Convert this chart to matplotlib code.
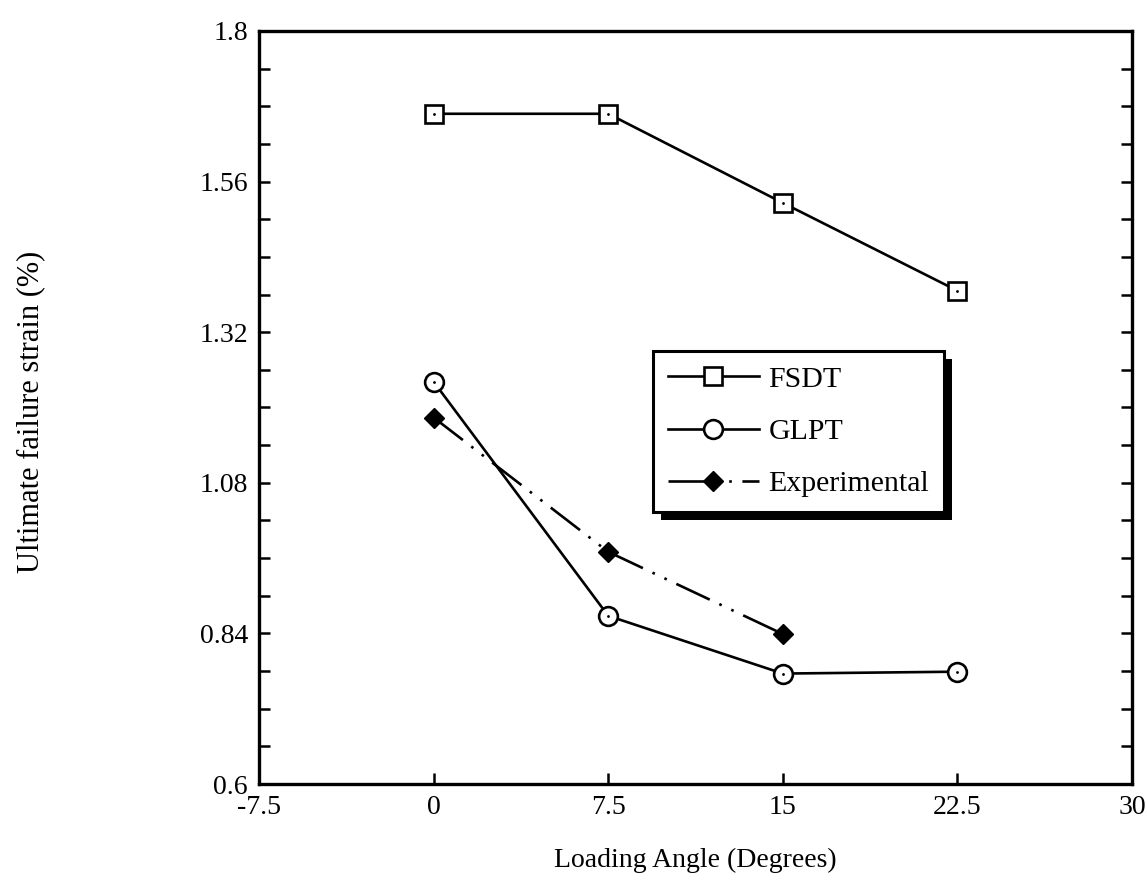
import matplotlib
matplotlib.use("Agg")
import matplotlib.pyplot as plt
from matplotlib.patches import Rectangle
from matplotlib.ticker import MultipleLocator
from matplotlib.transforms import IdentityTransform

plt.rcParams["font.family"] = ["Liberation Serif", "DejaVu Serif"]

# -----------------------------------------------------------------------------
# Data
# -----------------------------------------------------------------------------
angles = [0, 7.5, 15, 22.5]
fsdt = [1.668, 1.668, 1.526, 1.386]
glpt = [1.241, 0.868, 0.776, 0.779]

exp_angles = [0, 7.5, 15]
experimental = [1.184, 0.970, 0.839]

x_ticks = [-7.5, 0, 7.5, 15, 22.5, 30]
x_tick_labels = ["-7.5", "0", "7.5", "15", "22.5", "30"]
y_ticks = [0.6, 0.84, 1.08, 1.32, 1.56, 1.8]
y_tick_labels = ["0.6", "0.84", "1.08", "1.32", "1.56", "1.8"]

# -----------------------------------------------------------------------------
# Figure
# -----------------------------------------------------------------------------
fig = plt.figure(figsize=(11.47, 8.84), dpi=100)
ax = fig.add_axes([0.2258, 0.1131, 0.7612, 0.8519])

ax.plot(angles, fsdt, color="black", lw=1.9, marker="s", ms=12.5,
        mfc="white", mec="black", mew=1.9, label="FSDT", zorder=3)
ax.plot(angles, glpt, color="black", lw=1.9, marker="o", ms=13.5,
        mfc="white", mec="black", mew=1.9, label="GLPT", zorder=3)
ax.plot(exp_angles, experimental, color="black", lw=1.9,
        linestyle=(0, (14, 4, 1, 4, 1, 4)), marker="D", ms=10.5,
        mfc="black", mec="black", label="Experimental", zorder=3)

# small centre dots inside the open markers
ax.plot(angles, fsdt, ls="none", marker=".", ms=2, color="black", zorder=4)
ax.plot(angles, glpt, ls="none", marker=".", ms=2, color="black", zorder=4)

ax.set_xlim(-7.5, 30)
ax.set_ylim(0.6, 1.8)
ax.set_xticks(x_ticks)
ax.set_xticklabels(x_tick_labels)
ax.set_yticks(y_ticks)
ax.set_yticklabels(y_tick_labels)
ax.yaxis.set_minor_locator(MultipleLocator(0.06))

ax.tick_params(axis="both", which="both", direction="in", width=1.8,
               labelsize=20, pad=8)
ax.tick_params(axis="y", which="both", right=True, length=8)
ax.tick_params(axis="x", which="major", length=8)
for spine in ax.spines.values():
    spine.set_linewidth(2.4)

ax.set_xlabel("Loading Angle (Degrees)", fontsize=20, labelpad=20)
fig.text(0.027, 0.534, "Ultimate failure strain (%)", rotation=90,
         fontsize=22, ha="center", va="center")

leg = ax.legend(loc="upper left", bbox_to_anchor=(0.451, 0.575), fontsize=21.5,
                frameon=True, fancybox=False, edgecolor="black",
                handlelength=3.05, labelspacing=0.85, borderpad=0.5,
                handletextpad=0.33, borderaxespad=0)
leg.get_frame().set_linewidth(2.2)
leg.get_frame().set_alpha(1)
leg.set_zorder(6)

# dark drop shadow behind the legend box
fig.canvas.draw()
bb = leg.get_window_extent()
shadow = Rectangle((bb.x0 + 8, bb.y0 - 8), bb.width, bb.height,
                   transform=IdentityTransform(), facecolor="black",
                   edgecolor="none", zorder=5.5, clip_on=False)
ax.add_artist(shadow)

fig.savefig("out.png", dpi=100)
